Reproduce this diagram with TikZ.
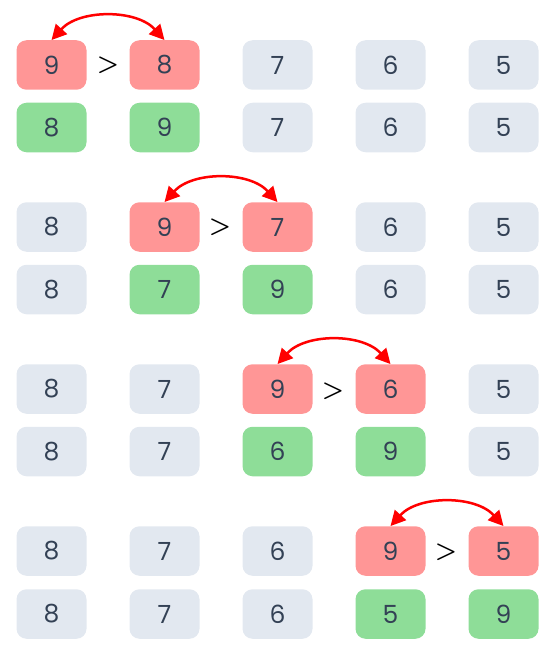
\documentclass[tikz,border=0pt]{standalone}
\usepackage{fontspec}
\setmainfont{Poppins}
\usetikzlibrary{arrows.meta}
\definecolor{boxgray}{HTML}{E2E8F0}
\definecolor{boxred}{HTML}{FF9696}
\definecolor{boxgreen}{HTML}{8EDD98}
\definecolor{txt}{HTML}{334155}
\tikzset{
 cell/.style={rounded corners=10pt, minimum width=70pt, minimum height=49.5pt, inner sep=0pt, text=txt, font=\fontsize{25}{25}\selectfont},
 idle/.style={cell, fill=boxgray},
 cmp/.style={cell, fill=boxred},
 done/.style={cell, fill=boxgreen},
 gtsign/.style={font=\fontsize{28}{28}\selectfont\boldmath, text=black, inner sep=0pt},
 swaparrow/.style={red, line width=2.5pt, {Triangle[length=15pt,width=15pt]}-{Triangle[length=15pt,width=15pt]}}
}
\begin{document}
\begin{tikzpicture}[x=1pt,y=-1pt]
\useasboundingbox (0,0) rectangle (557,658);
% group 1
\foreach \s/\v [count=\i] in {cmp/9,cmp/8,idle/7,idle/6,idle/5}
  \node[\s] (a1c\i) at ({51.5+(\i-1)*113},65) {\v};
\foreach \s/\v [count=\i] in {done/8,done/9,idle/7,idle/6,idle/5}
  \node[\s] (b1c\i) at ({51.5+(\i-1)*113},127.5) {\v};
\node[gtsign] (gt1) at (108,65) {$>$};
\draw[swaparrow] (a1c1.north) .. controls +(28,-31) and +(-28,-31) .. (a1c2.north);
% group 2
\foreach \s/\v [count=\i] in {idle/8,cmp/9,cmp/7,idle/6,idle/5}
  \node[\s] (a2c\i) at ({51.5+(\i-1)*113},227) {\v};
\foreach \s/\v [count=\i] in {idle/8,done/7,done/9,idle/6,idle/5}
  \node[\s] (b2c\i) at ({51.5+(\i-1)*113},289.5) {\v};
\node[gtsign] (gt2) at (220,227) {$>$};
\draw[swaparrow] (a2c2.north) .. controls +(28,-31) and +(-28,-31) .. (a2c3.north);
% group 3
\foreach \s/\v [count=\i] in {idle/8,idle/7,cmp/9,cmp/6,idle/5}
  \node[\s] (a3c\i) at ({51.5+(\i-1)*113},389) {\v};
\foreach \s/\v [count=\i] in {idle/8,idle/7,done/6,done/9,idle/5}
  \node[\s] (b3c\i) at ({51.5+(\i-1)*113},451.5) {\v};
\node[gtsign] (gt3) at (333,391) {$>$};
\draw[swaparrow] (a3c3.north) .. controls +(28,-31) and +(-28,-31) .. (a3c4.north);
% group 4
\foreach \s/\v [count=\i] in {idle/8,idle/7,idle/6,cmp/9,cmp/5}
  \node[\s] (a4c\i) at ({51.5+(\i-1)*113},551) {\v};
\foreach \s/\v [count=\i] in {idle/8,idle/7,idle/6,done/5,done/9}
  \node[\s] (b4c\i) at ({51.5+(\i-1)*113},614) {\v};
\node[gtsign] (gt4) at (446,552) {$>$};
\draw[swaparrow] (a4c4.north) .. controls +(28,-31) and +(-28,-31) .. (a4c5.north);
\end{tikzpicture}
\end{document}
